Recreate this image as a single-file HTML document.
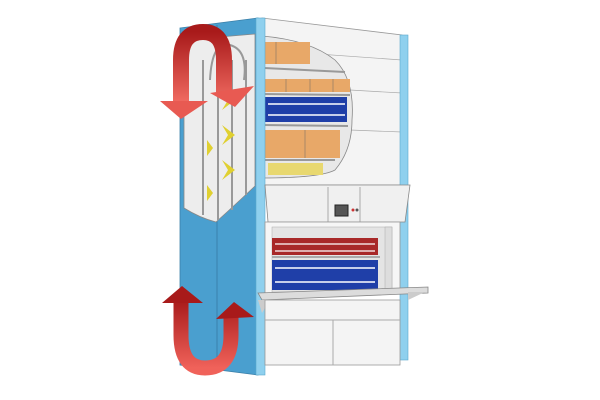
<!DOCTYPE html>
<html><head><meta charset="utf-8"><style>
html,body{margin:0;padding:0;background:#fff;width:600px;height:400px;overflow:hidden}
</style></head><body>
<svg width="600" height="400" viewBox="0 0 600 400" xmlns="http://www.w3.org/2000/svg">
<defs>
<linearGradient id="rg" x1="0" y1="0" x2="0" y2="1">
<stop offset="0" stop-color="#a81a1a"/><stop offset="1" stop-color="#f06a60"/>
</linearGradient>
<linearGradient id="rg2" x1="0" y1="1" x2="0" y2="0">
<stop offset="0" stop-color="#f0625a"/><stop offset="1" stop-color="#a81a1a"/>
</linearGradient>
</defs>
<polygon points="262,18 402,35 402,185 262,185" fill="#f4f4f4" stroke="#999" stroke-width="0.8"/>
<line x1="262" y1="50" x2="402" y2="60" stroke="#aaa" stroke-width="0.7"/>
<line x1="350" y1="90" x2="402" y2="93" stroke="#aaa" stroke-width="0.7"/>
<line x1="350" y1="130" x2="402" y2="132" stroke="#aaa" stroke-width="0.7"/>
<path d="M262,36 Q310,40 335,60 Q355,80 352,120 Q352,150 335,170 Q320,178 262,178 Z" fill="#e8e8e8" stroke="#888" stroke-width="0.8"/>
<rect x="245" y="42" width="65" height="22" fill="#e8a868"/>
<line x1="276" y1="42" x2="276" y2="64" stroke="#a86"/>
<line x1="245" y1="67" x2="345" y2="72" stroke="#999" stroke-width="2"/>
<rect x="265" y="79" width="85" height="13" fill="#e8a868"/>
<line x1="286" y1="79" x2="286" y2="92" stroke="#a86"/><line x1="310" y1="79" x2="310" y2="92" stroke="#a86"/><line x1="333" y1="79" x2="333" y2="92" stroke="#a86"/>
<line x1="262" y1="94" x2="350" y2="95" stroke="#999" stroke-width="2"/>
<rect x="265" y="97" width="82" height="25" fill="#1f3fa8"/>
<g stroke="#fff" stroke-width="1.5"><line x1="268" y1="104" x2="345" y2="104"/><line x1="268" y1="115" x2="345" y2="115"/></g>
<line x1="262" y1="125" x2="348" y2="126" stroke="#999" stroke-width="2"/>
<rect x="265" y="130" width="75" height="28" fill="#e8a868"/>
<line x1="305" y1="130" x2="305" y2="158" stroke="#a86"/>
<line x1="262" y1="160" x2="335" y2="160" stroke="#999" stroke-width="2"/>
<rect x="268" y="163" width="55" height="12" fill="#e8d870"/>
<polygon points="180,28 258,18 258,375 180,365" fill="#4a9fcf" stroke="#3a7fa8" stroke-width="0.8"/>
<line x1="217" y1="25" x2="217" y2="370" stroke="#3a80ad" stroke-width="1"/>
<path d="M184,40 L255,34 L255,186 Q235,205 216,222 Q200,218 184,208 Z" fill="#ededed" stroke="#888" stroke-width="0.8"/>
<g stroke="#999" stroke-width="2" fill="none">
<line x1="203" y1="60" x2="203" y2="215"/><line x1="218" y1="60" x2="218" y2="220"/>
<line x1="232" y1="60" x2="232" y2="210"/><line x1="246" y1="60" x2="246" y2="195"/>
<path d="M210,80 Q212,40 230,45 Q248,50 244,80"/>
</g>
<g fill="#e0d030">
<polygon points="222,90 235,100 222,110 228,100"/>
<polygon points="222,125 235,135 222,145 228,135"/>
<polygon points="222,160 235,170 222,180 228,170"/>
<polygon points="207,140 213,148 207,156"/>
<polygon points="207,185 213,193 207,201"/>
</g>
<rect x="256" y="18" width="9" height="357" fill="#8fd0ee" stroke="#5aa8cc" stroke-width="0.6"/>
<rect x="400" y="35" width="8" height="325" fill="#8fd0ee" stroke="#5aa8cc" stroke-width="0.6"/>
<polygon points="265,185 410,185 405,222 268,222" fill="#f0f0f0" stroke="#888" stroke-width="0.8"/>
<line x1="328" y1="187" x2="328" y2="222" stroke="#aaa"/><line x1="360" y1="187" x2="360" y2="222" stroke="#aaa"/>
<rect x="335" y="205" width="13" height="11" fill="#555" stroke="#222"/>
<circle cx="353" cy="210" r="1.5" fill="#c33"/><circle cx="357" cy="210" r="1.5" fill="#555"/>
<rect x="265" y="222" width="135" height="72" fill="#f6f6f6" stroke="#999" stroke-width="0.8"/>
<rect x="272" y="227" width="120" height="65" fill="#e4e4e4" stroke="#aaa" stroke-width="0.5"/>
<rect x="385" y="227" width="7" height="65" fill="#ddd" stroke="#aaa" stroke-width="0.5"/>
<rect x="272" y="238" width="106" height="17" fill="#a82828"/>
<g stroke="#fff" stroke-width="1.3"><line x1="275" y1="244" x2="375" y2="244"/><line x1="275" y1="251" x2="375" y2="251"/></g>
<line x1="272" y1="257" x2="380" y2="257" stroke="#aaa" stroke-width="2"/>
<rect x="272" y="260" width="106" height="30" fill="#1f3fa8"/>
<g stroke="#fff" stroke-width="1.4"><line x1="275" y1="268" x2="375" y2="268"/><line x1="275" y1="282" x2="375" y2="282"/></g>
<polygon points="258,293 428,287 428,293 262,300" fill="#dcdcdc" stroke="#888" stroke-width="0.8"/>
<polygon points="258,300 270,300 262,313" fill="#ccc"/>
<polygon points="408,292 425,292 408,300" fill="#ccc"/>
<rect x="265" y="300" width="135" height="65" fill="#f4f4f4" stroke="#999" stroke-width="0.8"/>
<line x1="265" y1="320" x2="400" y2="320" stroke="#aaa"/>
<line x1="333" y1="320" x2="333" y2="365" stroke="#aaa"/>
<path d="M181,102 L181,60 Q181,32 203,32 Q224,32 224,60 L224,92" fill="none" stroke="url(#rg)" stroke-width="16"/>
<polygon points="160,101 208,101 181,119" fill="#e85a52"/>
<polygon points="210,93 254,86 235,107" fill="#e85a52"/>
<path d="M181,300 L181,335 Q181,368 205,368 Q231,368 231,335 L231,316" fill="none" stroke="url(#rg2)" stroke-width="15"/>
<polygon points="162,303 203,303 182,286" fill="#a81a1a"/>
<polygon points="216,319 254,317 234,302" fill="#a81a1a"/>
</svg>
</body></html>
